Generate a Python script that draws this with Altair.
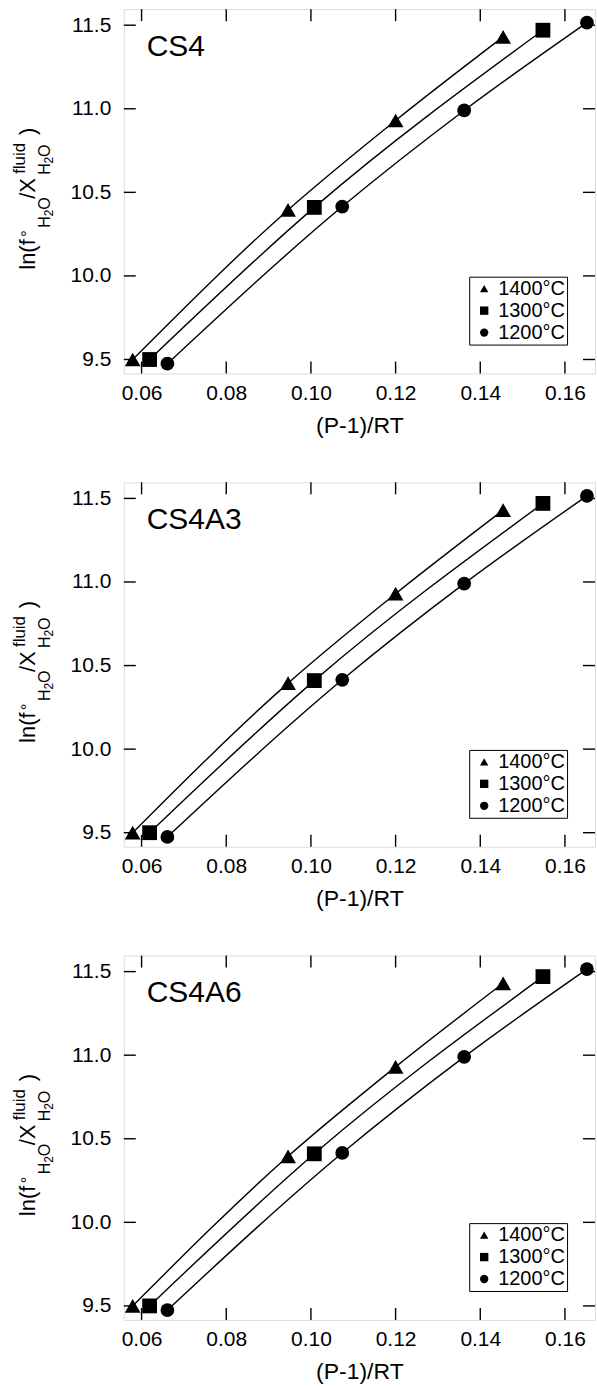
import altair as alt
import pandas as pd

FONT = "Liberation Sans"

PANELS = ["CS4", "CS4A3", "CS4A6"]
SERIES = ["1400°C", "1300°C", "1200°C"]
SHAPES = ["triangle-up", "square", "circle"]
SIZES = [250, 190, 220]

# (P-1)/RT and ln(f°/X) for each isotherm
x_1400 = [0.0579, 0.0946, 0.1200, 0.1454]
y_1400 = [9.50, 10.395, 10.93, 11.43]
x_1300 = [0.0619, 0.1008, 0.1548]
y_1300 = [9.50, 10.41, 11.47]
x_1200 = [0.0661, 0.1074, 0.1362, 0.1652]
y_1200 = [9.475, 10.415, 10.99, 11.515]

X_TICKS = [0.06, 0.08, 0.10, 0.12, 0.14, 0.16]
Y_TICKS = [9.5, 10.0, 10.5, 11.0, 11.5]
X_DOMAIN = [0.0558, 0.1671]
Y_DOMAIN = [9.416, 11.596]

W, H = 472, 365
TICK = 12

rows = []
for name, xs, ys in zip(SERIES, [x_1400, x_1300, x_1200], [y_1400, y_1300, y_1200]):
    for i, (xv, yv) in enumerate(zip(xs, ys)):
        rows.append({"T": name, "x": xv, "y": yv, "order": i})
data = pd.DataFrame(rows)
xticks = pd.DataFrame({"v": X_TICKS})
yticks = pd.DataFrame({"v": Y_TICKS})

xscale = alt.Scale(domain=X_DOMAIN, nice=False, zero=False)
yscale = alt.Scale(domain=Y_DOMAIN, nice=False, zero=False)

# y-axis title pieces: text, start along the rotated line, baseline offset, font size
TITLE_PIECES = [
    ("ln(f", 261, -89, 22),
    ("°", 228, -91, 16),
    ("H", 219, -74, 16),
    ("2", 207.5, -71, 12),
    ("O", 201, -74, 16),
    ("/X", 190, -89, 22),
    ("fluid", 165, -99, 17),
    ("H", 166, -74, 16),
    ("2", 154.5, -71, 12),
    ("O", 148, -74, 16),
    (")", 126, -89, 22),
]


def panel(label):
    base = alt.Chart(data)
    x_enc = alt.X(
        "x:Q",
        scale=xscale,
        axis=alt.Axis(
            values=X_TICKS, format=".2f", ticks=False, domain=False, grid=False,
            labelFontSize=21, labelPadding=9, labelFlush=False, labelOverlap=False,
            labelColor="black", labelFont=FONT,
            title="(P-1)/RT", titleFontSize=23, titleFontWeight="normal",
            titleFont=FONT, titleColor="black", titlePadding=11,
        ),
    )
    y_enc = alt.Y(
        "y:Q",
        scale=yscale,
        axis=alt.Axis(
            values=Y_TICKS, format=".1f", ticks=False, domain=False, grid=False,
            labelFontSize=21, labelPadding=13, labelFlush=False, labelOverlap=False,
            labelColor="black", labelFont=FONT, title=None,
        ),
    )
    lines = base.mark_line(color="black", strokeWidth=1.4, interpolate="monotone").encode(
        x=x_enc, y=y_enc, detail="T:N", order="order:Q"
    )
    points = base.mark_point(filled=True, color="black", opacity=1).encode(
        x=alt.X("x:Q", scale=xscale),
        y=alt.Y("y:Q", scale=yscale),
        shape=alt.Shape(
            "T:N",
            scale=alt.Scale(domain=SERIES, range=SHAPES),
            legend=alt.Legend(
                orient="none", legendX=346, legendY=268, direction="vertical",
                title=None, strokeColor="black", padding=2, rowPadding=2,
                labelFontSize=20, labelFont=FONT, labelColor="black",
                labelOffset=4, symbolSize=70, symbolOffset=3,
                symbolFillColor="black", symbolStrokeColor="black",
            ),
        ),
        size=alt.Size("T:N", scale=alt.Scale(domain=SERIES, range=SIZES), legend=None),
    )
    bt = alt.Chart(xticks).mark_rule(color="black", strokeWidth=1.4).encode(
        x=alt.X("v:Q", scale=xscale), y=alt.value(H), y2=alt.value(H - TICK))
    tt = alt.Chart(xticks).mark_rule(color="black", strokeWidth=1.4).encode(
        x=alt.X("v:Q", scale=xscale), y=alt.value(0), y2=alt.value(TICK))
    lt = alt.Chart(yticks).mark_rule(color="black", strokeWidth=1.4).encode(
        y=alt.Y("v:Q", scale=yscale), x=alt.value(0), x2=alt.value(TICK))
    rt = alt.Chart(yticks).mark_rule(color="black", strokeWidth=1.4).encode(
        y=alt.Y("v:Q", scale=yscale), x=alt.value(W), x2=alt.value(W - TICK))
    name = alt.Chart(alt.Data(values=[{}])).mark_text(
        align="left", baseline="alphabetic", fontSize=30, font=FONT, color="black"
    ).encode(x=alt.value(23), y=alt.value(47), text=alt.value(label))
    layers = [lines, points, bt, tt, lt, rt, name]
    for s, along, across, fs in TITLE_PIECES:
        layers.append(
            alt.Chart(alt.Data(values=[{}])).mark_text(
                angle=270, align="left", baseline="alphabetic",
                fontSize=fs, font=FONT, color="black"
            ).encode(x=alt.value(across), y=alt.value(along), text=alt.value(s))
        )
    return alt.layer(*layers).properties(width=W, height=H)


chart = (
    alt.vconcat(*[panel(p) for p in PANELS], spacing=42)
    .resolve_legend(shape="independent")
    .properties(padding={"left": 10, "top": 6, "right": 0, "bottom": 5})
    .configure_view(stroke="black", strokeWidth=1.5)
    .configure(background="white")
)

chart.save("out.html", embed_options={"renderer": "svg", "actions": False})
